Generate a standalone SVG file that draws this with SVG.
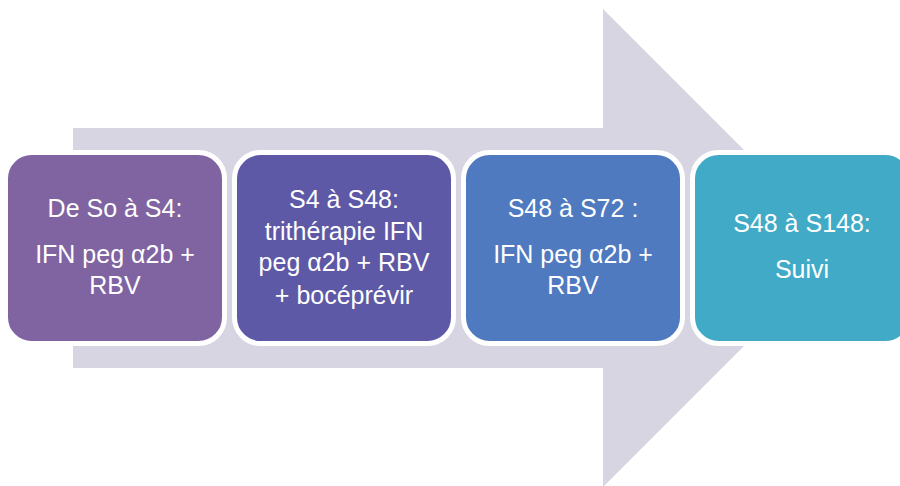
<svg xmlns="http://www.w3.org/2000/svg" width="900" height="486" viewBox="0 0 900 486">
<style>
.box{stroke:#ffffff;stroke-width:5}
.t{font-family:"Liberation Sans",Arial,sans-serif;font-size:25px;fill:#ffffff;text-anchor:middle}
</style>
<rect width="900" height="486" fill="#ffffff"/>
<g id="arrow">
<polygon points="73,128 603,128 603,9 842,248 603,487 603,368 73,368" fill="#d8d5e3"/>
</g>
<g id="node1">
<rect class="box" x="5.5" y="152.5" width="219" height="191" rx="26" fill="#8064a2"/>
<text class="t" x="115" y="217">De So à S4:</text>
<text class="t" x="115" y="263">IFN peg α2b +</text>
<text class="t" x="115" y="294">RBV</text>
</g>
<g id="node2">
<rect class="box" x="234.5" y="152.5" width="219" height="191" rx="26" fill="#5d59a6"/>
<text class="t" x="344" y="208">S4 à S48:</text>
<text class="t" x="344" y="240">trithérapie IFN</text>
<text class="t" x="344" y="271">peg α2b + RBV</text>
<text class="t" x="344" y="304">+ bocéprévir</text>
</g>
<g id="node3">
<rect class="box" x="463.5" y="152.5" width="219" height="191" rx="26" fill="#4f7abf"/>
<text class="t" x="573" y="217">S48 à S72 :</text>
<text class="t" x="573" y="263">IFN peg α2b +</text>
<text class="t" x="573" y="294">RBV</text>
</g>
<g id="node4">
<rect class="box" x="692.5" y="152.5" width="219" height="191" rx="26" fill="#41abc7"/>
<text class="t" x="802" y="232">S48 à S148:</text>
<text class="t" x="802" y="278">Suivi</text>
</g>
<g id="connectors"/>
</svg>
